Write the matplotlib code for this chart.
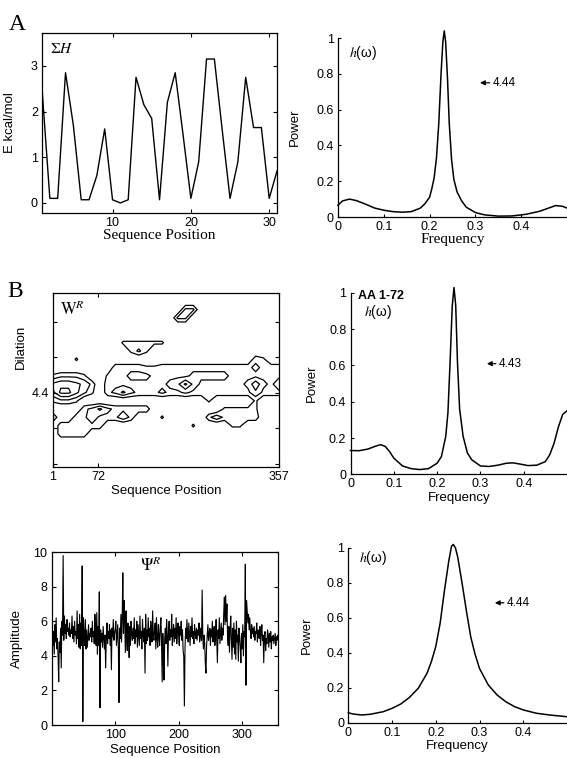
import matplotlib

matplotlib.use("Agg")

import matplotlib.pyplot as plt  # noqa: E402
import numpy as np  # noqa: E402
from matplotlib.ticker import FuncFormatter  # noqa: E402

plt.rcParams["font.family"] = ["Liberation Sans", "DejaVu Sans"]
plt.rcParams["mathtext.fontset"] = "stix"
plt.rcParams["font.size"] = 9

SERIF = ["Liberation Serif", "DejaVu Serif"]

# --- A: hydrophobicity profile (31 residues) and its spectrum
sigma_pos = list(range(1, 32))
sigma_h = [2.5, 0.1, 0.1, 2.85, 1.7, 0.07, 0.07, 0.6, 1.62, 0.07, 0.0, 0.07,
           2.75, 2.15, 1.85, 0.07, 2.2, 2.85, 1.5, 0.1, 0.9, 3.15, 3.15, 1.6,
           0.1, 0.9, 2.75, 1.65, 1.65, 0.1, 0.7]

freq_a = [0, 0.01, 0.025, 0.04, 0.06, 0.08, 0.1, 0.12, 0.14, 0.16, 0.18, 0.19,
          0.2, 0.205, 0.21, 0.215, 0.22, 0.225, 0.229, 0.232, 0.235, 0.239,
          0.243, 0.248, 0.253, 0.26, 0.27, 0.28, 0.3, 0.32, 0.35, 0.38, 0.41,
          0.44, 0.46, 0.475, 0.49, 0.5]
power_a = [0.066, 0.09, 0.1, 0.092, 0.072, 0.05, 0.038, 0.03, 0.027, 0.03,
           0.05, 0.075, 0.11, 0.16, 0.22, 0.33, 0.52, 0.8, 0.98, 1.04, 0.98,
           0.78, 0.52, 0.32, 0.21, 0.14, 0.09, 0.055, 0.025, 0.012, 0.005,
           0.006, 0.015, 0.032, 0.05, 0.064, 0.06, 0.05]

# --- B: wavelet transform contour (rows = dilation, cols = position)
w_rows = [
    "000000000000000000000000000000",
    "000000000000000000000000000000",
    "000000000000000005500000000000",
    "000000000000000055000000000000",
    "000000000000000000000000000000",
    "000000000000000000000000000000",
    "000000000333333000000000000000",
    "000000000035300000000000000000",
    "000300000000000000000000004300",
    "000000004444334444444444445444",
    "344430034455544444555554444444",
    "788764044444444569644444458546",
    "699753045754445445444444446444",
    "344300000000000000003000003000",
    "000045754444400000000033333000",
    "500446444640003000004644444000",
    "044444400000000000300003300000",
    "044440000000000000000000000000",
    "000000000000000000000000000000",
    "000000000000000000000000000000",
    "000000000000000000000000000000",
    "000000000000000000000000000000",
]
w_levels = [2.5, 4.5, 6.5, 8.5]

freq_b = [0, 0.02, 0.04, 0.06, 0.07, 0.08, 0.09, 0.1, 0.12, 0.14, 0.16, 0.18,
          0.2, 0.21, 0.22, 0.225, 0.23, 0.235, 0.239, 0.243, 0.247, 0.252,
          0.26, 0.27, 0.28, 0.3, 0.32, 0.34, 0.36, 0.375, 0.39, 0.41, 0.43,
          0.45, 0.46, 0.47, 0.48, 0.49, 0.5]
power_b = [0.131, 0.13, 0.139, 0.157, 0.163, 0.154, 0.126, 0.089, 0.046,
           0.031, 0.026, 0.031, 0.061, 0.098, 0.21, 0.34, 0.62, 0.93, 1.03,
           0.93, 0.62, 0.36, 0.21, 0.117, 0.08, 0.046, 0.043, 0.05, 0.061,
           0.063, 0.057, 0.048, 0.05, 0.07, 0.107, 0.17, 0.26, 0.33, 0.35]

# --- C: reconstructed signal (357 residues) and its spectrum
psi_amp = [
    5.0, 4.6, 5.4, 4.1, 5.8, 4.8, 6.2, 4.4, 5.0, 4.0,
    2.5, 4.8, 4.2, 5.6, 3.3, 6.0, 5.2, 9.8, 4.9, 6.3,
    5.3, 5.8, 5.0, 6.1, 5.4, 5.6, 5.2, 5.9, 5.1, 5.5,
    5.3, 6.3, 5.0, 5.7, 4.8, 6.0, 5.2, 5.4, 4.7, 6.6,
    5.0, 5.8, 4.5, 6.4, 4.4, 5.9, 4.6, 9.2, 0.2, 6.2,
    5.2, 4.6, 6.1, 4.4, 5.5, 4.5, 5.0, 5.8, 4.9, 5.3,
    5.1, 5.6, 4.8, 6.0, 5.1, 5.4, 4.7, 6.4, 5.2, 4.6,
    6.5, 4.1, 5.7, 4.6, 7.7, 1.0, 5.5, 4.8, 5.3, 4.5,
    5.7, 5.0, 4.4, 5.2, 3.3, 5.1, 5.9, 4.7, 5.4, 5.0,
    5.8, 4.6, 5.5, 3.2, 5.6, 5.1, 6.1, 4.9, 5.3, 5.5,
    6.0, 4.6, 5.2, 5.8, 4.4, 1.3, 5.6, 5.0, 6.4, 4.8,
    6.2, 8.8, 5.3, 7.2, 6.1, 4.2, 6.6, 5.0, 4.3, 5.9,
    5.2, 3.9, 5.7, 4.6, 6.0, 5.3, 4.9, 5.6, 5.0, 6.2,
    4.7, 5.5, 5.1, 6.0, 4.5, 5.8, 5.2, 4.6, 6.3, 5.0,
    5.4, 4.4, 6.1, 5.2, 4.8, 5.6, 3.0, 6.4, 4.7, 5.5,
    4.9, 6.2, 5.1, 5.6, 4.6, 6.0, 5.3, 4.8, 6.6, 5.2,
    4.9, 5.5, 5.9, 4.4, 6.2, 5.0, 4.5, 5.8, 5.1, 4.6,
    5.7, 6.2, 4.8, 2.5, 5.3, 4.2, 2.6, 5.0, 5.6, 4.7,
    6.1, 5.2, 3.4, 5.4, 6.0, 4.9, 5.5, 5.1, 6.4, 4.6,
    5.3, 5.8, 4.8, 5.6, 5.0, 6.2, 4.7, 5.4, 5.9, 5.1,
    4.6, 5.7, 5.2, 6.0, 4.9, 5.5, 4.3, 4.0, 1.1, 4.5,
    5.6, 5.0, 6.1, 5.2, 4.8, 5.9, 5.3, 4.6, 5.7, 5.1,
    6.2, 5.0, 5.4, 4.7, 5.8, 5.3, 5.0, 5.6, 4.9, 5.5,
    5.2, 5.9, 4.8, 5.1, 5.6, 4.9, 7.8, 5.1, 4.4, 5.2,
    4.7, 3.5, 3.0, 4.6, 5.2, 5.8, 4.9, 5.3, 5.6, 4.6,
    5.5, 5.1, 6.0, 4.8, 5.4, 5.7, 4.6, 5.2, 6.1, 4.9,
    3.6, 5.5, 5.0, 6.2, 4.7, 5.3, 5.9, 4.9, 5.6, 5.2,
    6.5, 7.4, 5.8, 7.5, 6.0, 7.0, 5.1, 4.6, 5.7, 4.2,
    5.4, 6.3, 5.0, 3.8, 5.6, 4.5, 5.9, 4.1, 5.5, 3.8,
    6.0, 4.8, 5.2, 3.7, 5.6, 5.1, 4.5, 3.6, 5.3, 4.4,
    5.8, 4.0, 5.4, 5.1, 9.3, 2.3, 7.2, 6.6, 5.9, 6.4,
    5.5, 6.2, 5.4, 5.0, 5.8, 5.3, 5.6, 5.1, 5.7, 4.9,
    5.4, 5.3, 5.9, 4.8, 5.5, 5.2, 5.0, 5.7, 4.6, 5.3,
    5.8, 4.9, 5.2, 3.6, 5.1, 5.4, 4.3, 5.0, 4.7, 5.5,
    5.2, 4.5, 5.3, 4.8, 5.4, 4.4, 5.1, 4.9, 5.2, 4.7,
    5.0, 5.3, 4.6, 5.1, 4.9, 5.2, 5.0,
]
psi_pos = list(range(1, len(psi_amp) + 1))

freq_c = [0, 0.01, 0.03, 0.05, 0.08, 0.1, 0.12, 0.14, 0.16, 0.18, 0.19, 0.2,
          0.21, 0.22, 0.23, 0.236, 0.24, 0.245, 0.25, 0.26, 0.27, 0.28, 0.29,
          0.3, 0.32, 0.34, 0.36, 0.38, 0.4, 0.43, 0.46, 0.5]
power_c = [0.057, 0.05, 0.044, 0.048, 0.063, 0.082, 0.107, 0.145, 0.197,
           0.283, 0.35, 0.436, 0.57, 0.76, 0.93, 1.01, 1.02, 1.0, 0.95, 0.8,
           0.64, 0.49, 0.39, 0.31, 0.216, 0.159, 0.12, 0.092, 0.073, 0.054,
           0.044, 0.034]

freq_ticks = [0, 0.1, 0.2, 0.3, 0.4]
power_ticks = [0, 0.2, 0.4, 0.6, 0.8, 1]

fmt = FuncFormatter(lambda v, p: f"{v:g}")

fig = plt.figure(figsize=(5.67, 7.58), dpi=100)


def box_axes(rect):
    ax = fig.add_axes(rect)
    ax.tick_params(direction="in", top=True, right=True, length=3,
                   width=0.8, labelsize=9, pad=3)
    for s in ax.spines.values():
        s.set_linewidth(0.9)
    return ax


def spectrum_axes(rect, freq, power, period, note_xy, ylab_x):
    ax = fig.add_axes(rect)
    ax.spines["top"].set_visible(False)
    ax.spines["right"].set_visible(False)
    for s in ("left", "bottom"):
        ax.spines[s].set_linewidth(0.9)
    ax.tick_params(direction="in", length=2.5, width=0.8, labelsize=9, pad=3)
    ax.plot(freq, power, color="k", lw=1.1, clip_on=False)
    ax.set_xlim(0, 0.5)
    ax.set_ylim(0, 1)
    ax.set_xticks(freq_ticks)
    ax.set_yticks(power_ticks)
    ax.xaxis.set_major_formatter(fmt)
    ax.yaxis.set_major_formatter(fmt)
    ax.set_ylabel("Power", fontsize=9.5)
    ax.yaxis.set_label_coords(ylab_x, 0.5)
    # period marker: short left arrow followed by the period value
    ax.annotate(period, xy=note_xy, xytext=(note_xy[0] + 0.027, note_xy[1]),
                fontsize=8.5, va="center", ha="left",
                arrowprops=dict(arrowstyle="-|>", color="k", lw=0.9,
                                mutation_scale=7, shrinkA=0, shrinkB=0,
                                relpos=(0, 0.5)))
    return ax


# ---- A left
ax1 = box_axes([0.0741, 0.719, 0.4145, 0.2375])
ax1.plot(sigma_pos, sigma_h, color="k", lw=1.0)
ax1.set_xlim(1, 31)
ax1.set_ylim(-0.22, 3.72)
ax1.set_xticks([10, 20, 30])
ax1.set_yticks([0, 1, 2, 3])
ax1.set_xlabel("Sequence Position", family=SERIF, fontsize=11, labelpad=0)
ax1.set_ylabel("E kcal/mol", fontsize=9.5)
ax1.yaxis.set_label_coords(-0.11, 0.5)
ax1.text(0.035, 0.91, r"$\Sigma H$", transform=ax1.transAxes, fontsize=11,
         va="center")

# ---- A right
ax2 = spectrum_axes([0.5961, 0.7137, 0.4039, 0.2361], freq_a, power_a,
                    "4.44", (0.31, 0.75), -0.16)
ax2.set_xlabel("Frequency", family=SERIF, fontsize=11, labelpad=0)
ax2.text(0.05, 0.915, r"$h$(ω)", transform=ax2.transAxes, fontsize=10,
         va="center")

# ---- B left: contour
w_grid = np.array([[int(ch) for ch in row] for row in w_rows], dtype=float)
w_x = np.linspace(1, 357, w_grid.shape[1])
w_y = np.arange(w_grid.shape[0])
ax3 = box_axes([0.0935, 0.3839, 0.3986, 0.2296])
ax3.contour(w_x, w_y, w_grid, levels=w_levels, colors="k", linewidths=0.9)
ax3.set_xlim(1, 357)
ax3.set_ylim(w_y[-1], 0)
ax3.set_xticks([1, 72, 357])
ax3.set_yticks([3.5, 7.75, 12.06, 16.3, 20.6])
ax3.set_yticklabels(["", "", "4.4", "", ""])
ax3.set_xlabel("Sequence Position", fontsize=9.5, labelpad=1)
ax3.set_ylabel("Dilation", fontsize=9.5)
ax3.yaxis.set_label_coords(-0.115, 0.69)
ax3.text(0.03, 0.91, r"$\mathrm{W}^{R}$", transform=ax3.transAxes,
         fontsize=12, va="center")

# ---- B right
ax4 = spectrum_axes([0.6182, 0.3743, 0.3818, 0.2392], freq_b, power_b,
                    "4.43", (0.315, 0.61), -0.15)
ax4.set_xlabel("Frequency", fontsize=9.5, labelpad=1)
ax4.text(0.035, 0.985, "AA 1-72", transform=ax4.transAxes, fontsize=9,
         fontweight="bold", va="center")
ax4.text(0.06, 0.895, r"$h$(ω)", transform=ax4.transAxes, fontsize=10,
         va="center")

# ---- C left
ax5 = box_axes([0.0912, 0.0435, 0.3997, 0.2282])
ax5.plot(psi_pos, psi_amp, color="k", lw=0.8)
ax5.set_xlim(0, 357)
ax5.set_ylim(0, 10)
ax5.set_xticks([100, 200, 300])
ax5.set_yticks([0, 2, 4, 6, 8, 10])
ax5.set_xlabel("Sequence Position", fontsize=9.5, labelpad=2)
ax5.set_ylabel("Amplitude", fontsize=9.5)
ax5.yaxis.set_label_coords(-0.125, 0.5)
ax5.text(0.39, 0.93, r"$\Psi^{R}$", transform=ax5.transAxes, fontsize=12,
         va="center")

# ---- C right
ax6 = spectrum_axes([0.6143, 0.0466, 0.3857, 0.2305], freq_c, power_c,
                    "4.44", (0.335, 0.686), -0.16)
ax6.set_xlabel("Frequency", fontsize=9.5, labelpad=1)
ax6.text(0.05, 0.945, r"$h$(ω)", transform=ax6.transAxes, fontsize=10,
         va="center")

fig.text(0.016, 0.9604, "A", family=SERIF, fontsize=17, va="baseline")
fig.text(0.013, 0.6082, "B", family=SERIF, fontsize=17, va="baseline")

fig.savefig("out.png", dpi=100)
